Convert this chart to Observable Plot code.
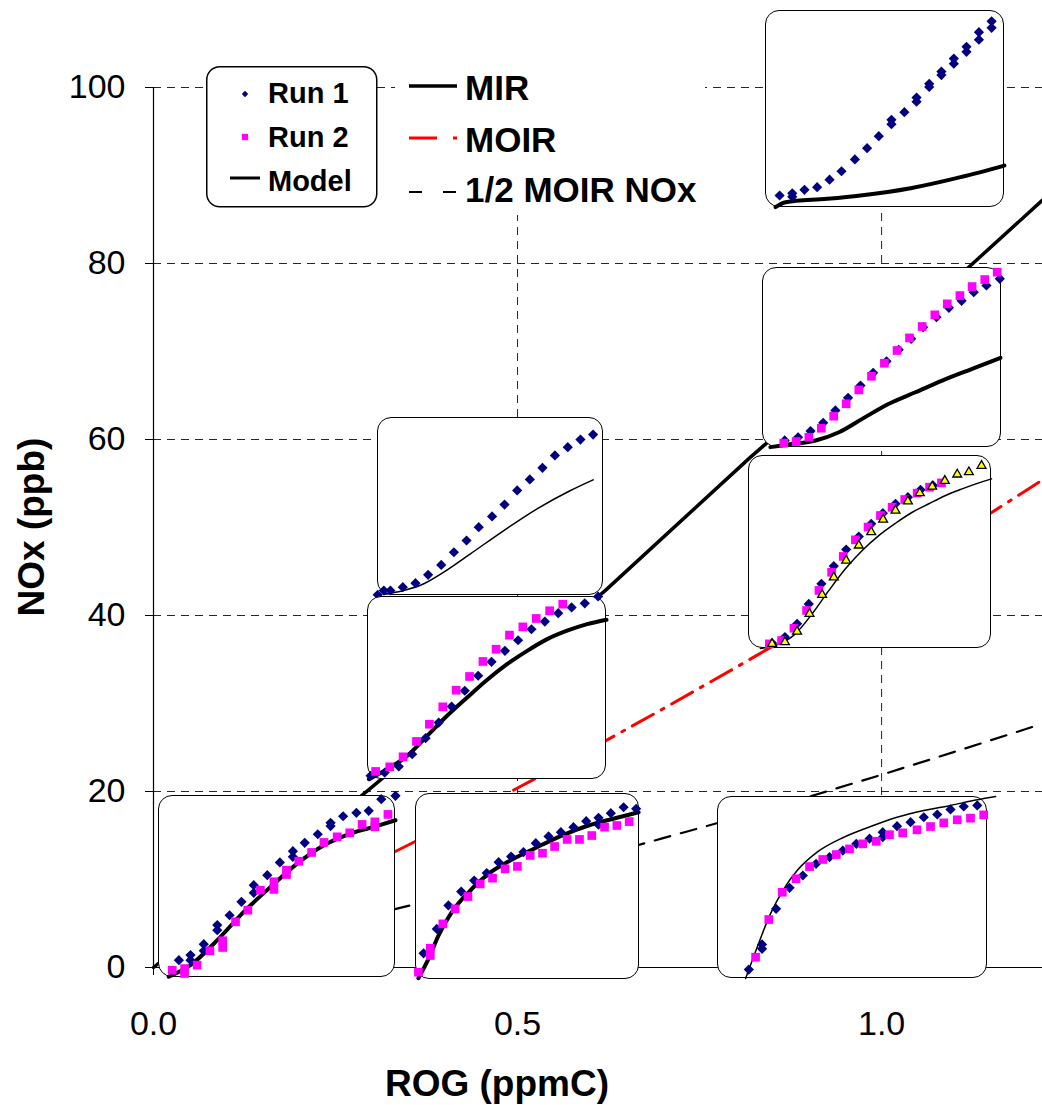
<!DOCTYPE html>
<html><head><meta charset="utf-8">
<script src="https://cdn.jsdelivr.net/npm/d3@7"></script>
<script src="https://cdn.jsdelivr.net/npm/@observablehq/plot@0.6"></script>
<style>
body{margin:0;background:#fff;}
#wrap{position:relative;width:1042px;height:1105px;overflow:hidden;font-family:'Liberation Sans',Arial,sans-serif;background:#fff;}
.inset{position:absolute;box-sizing:border-box;border:1.5px solid #000;border-radius:14px;background:#fff;overflow:visible;}
.inset svg{position:absolute;left:-1.5px;top:-1.5px;overflow:visible;max-width:none;}
</style></head><body><div id="wrap"></div>
<script>
// ---------- main chart data ----------
const yTicks = [0, 20, 40, 60, 80, 100];
const xTicks = [0, 0.5, 1.0];
const gridYValues = [20, 40, 60, 80, 100];
const gridXValues = [0.5, 1.0];
const mirRog = [0, 0.30, 0.62, 0.82, 1.12, 1.221];
const mirNox = [0, 20.5, 42.8, 58.0, 79.6, 87.2];
const moirRog = [0.33, 0.40, 0.50, 0.60, 0.70, 0.80, 0.90, 1.00, 1.10, 1.221];
const moirNox = [13.1, 16.0, 20.4, 24.8, 29.4, 34.1, 38.9, 43.9, 49.0, 55.4];
const halfMoirNox = [6.6, 8.0, 10.2, 12.4, 14.7, 17.0, 19.4, 21.9, 24.5, 27.7];
const legendSeries = ["Run 1", "Run 2", "Model"];
const legendLines = ["MIR", "MOIR", "1/2 MOIR NOx"];

// ---------- inset data (x: % of run time, y: % of inset range) ----------
const inset1Run1 = [[5.9,6.1],[11.2,5.5],[11.2,7.2],[16.3,9.0],[21.6,10.3],[26.8,14.1],[31.8,18.4],[37.4,24.4],[42.5,30.1],[47.4,36.2],[52.7,42.3],[52.7,44.5],[58.1,48.4],[63.2,53.7],[63.2,55.8],[68.5,61.2],[68.5,62.8],[73.6,67.2],[73.6,69.0],[78.8,73.0],[78.8,75.6],[84.1,79.0],[84.1,81.6],[89.3,85.2],[89.3,89.0],[94.6,91.2],[94.6,94.5]];
const inset1Model = [[4.2,0.2],[8.4,2.7],[25.8,4.4],[39.7,6.1],[60.7,9.8],[81.6,15.4],[100,21.3]];

const inset2Run1 = [[9.3,3.9],[14.9,5.7],[20.1,9.1],[25.4,13.7],[30.5,20.6],[35.8,27.6],[41.0,34.4],[46.3,41.5],[51.9,47.9],[57.0,54.3],[62.2,60.4],[67.2,66.8],[72.8,72.4],[78.0,77.6],[83.3,81.5],[88.4,86.3],[93.7,90.0],[99.3,93.7]];
const inset2Run2 = [[8.9,2.4],[14.1,3.3],[19.4,5.7],[24.6,10.7],[29.8,17.4],[35.0,24.3],[40.3,32.0],[45.6,39.6],[51.0,46.8],[56.3,53.9],[61.5,60.9],[66.8,67.2],[72.1,73.7],[77.3,79.8],[82.6,84.4],[87.7,89.4],[93.0,93.3],[98.2,97.4]];
const inset2Model = [[3.3,0.2],[11.0,1.7],[22.2,3.9],[32.0,8.5],[41.7,15.9],[52.9,24.3],[64.0,30.7],[75.2,37.2],[87.7,43.7],[99.6,49.8]];

const inset3Run1 = [[9.7,2.8],[15.0,5.9],[20.0,12.8],[24.8,23.1],[30.0,33.5],[35.1,42.7],[40.2,51.3],[45.4,58.0],[50.5,64.6],[55.3,70.1],[60.5,75.0],[65.6,78.4],[70.8,82.2],[75.9,84.5]];
const inset3Run2 = [[8.6,2.4],[13.6,4.1],[18.7,10.5],[23.9,19.7],[29.0,30.1],[34.2,39.5],[39.0,47.7],[44.0,56.3],[49.2,62.9],[54.3,68.9],[59.1,73.2],[64.3,77.2],[69.4,80.5],[74.5,83.6],[79.4,85.8]];
const inset3Run3 = [[9.7,2.4],[15.0,3.3],[20.0,8.8],[25.1,18.0],[30.3,27.8],[35.1,36.9],[40.2,45.6],[45.4,53.4],[50.5,60.3],[55.4,66.8],[60.5,71.5],[65.6,76.3],[70.5,80.5],[75.6,83.9],[80.8,86.9],[85.9,90.2],[90.7,91.4],[95.9,94.7]];
const inset3Model = [[4.9,0],[11.1,1.6],[19.3,7.6],[26.2,18.0],[33.1,30.1],[39.9,41.3],[46.8,50.8],[53.6,58.5],[60.5,64.9],[67.4,70.6],[74.2,75.0],[81.1,79.3],[87.9,82.7],[94.8,85.8],[100,87.9]];

const inset4Run1 = [[0.1,0.4],[2.8,2.8],[5.7,2.8],[11.2,4.7],[16.8,6.9],[22.4,11.6],[28.2,17.2],[33.8,24.3],[39.4,30.9],[44.8,38.4],[50.7,44.4],[56.2,51.1],[61.8,59.0],[67.4,65.2],[73.0,71.7],[78.5,78.7],[84.2,83.3],[89.8,87.6],[95.4,90.4]];
const inset4Model = [[2.8,0.6],[11.6,2.8],[20.5,6.6],[29.3,13.1],[41.1,23.4],[55.9,36.5],[70.6,48.7],[85.4,59.0],[95.4,65.0]];

const inset5Run1 = [[1.3,2.0],[7.2,3.8],[13.1,7.1],[18.7,13.8],[24.3,22.6],[29.8,31.1],[35.2,39.9],[40.7,48.5],[46.3,56.7],[51.9,64.3],[57.5,70.3],[63.0,76.1],[68.6,82.1],[74.2,86.3],[79.8,90.9],[85.4,94.0],[90.9,96.3],[96.5,100]];
const inset5Run2 = [[3.4,4.4],[9.3,6.9],[14.9,12.4],[20.5,20.8],[25.9,30.2],[31.5,39.7],[37.1,48.8],[42.7,56.3],[48.3,64.5],[53.8,71.2],[59.4,78.9],[65.0,83.4],[70.6,88.0],[76.2,92.2],[81.7,95.8]];
const inset5Model = [[0.6,0.2],[8.2,5.6],[16.6,12.9],[25.0,23.9],[33.3,34.8],[41.7,44.8],[50.1,54.5],[58.4,63.0],[66.8,70.3],[75.2,76.7],[83.5,81.3],[91.9,84.9],[100,87.3]];

const inset6Run1 = [[8.6,9.5],[13.5,12.3],[13.5,9.5],[19.1,18.3],[19.1,14.7],[24.8,28.8],[24.8,26.0],[30.0,34.2],[35.0,41.6],[40.2,50.7],[40.2,46.5],[45.9,56.2],[51.2,63.2],[56.7,69.4],[56.7,66.3],[61.7,74.0],[67.2,78.7],[72.6,85.0],[72.6,83.2],[77.9,88.6],[83.5,90.5],[88.7,91.6],[94.0,98.0],[100,99.8]];
const inset6Run2 = [[5.8,4.0],[11.0,4.9],[11.0,2.2],[16.3,6.8],[21.7,14.7],[27.1,20.2],[27.1,16.5],[32.5,30.6],[37.7,37.0],[43.0,48.0],[48.7,52.6],[48.7,48.4],[54.0,59.0],[54.0,56.6],[59.2,63.9],[64.6,68.7],[69.8,74.2],[75.4,77.3],[80.7,79.5],[85.9,84.1],[91.3,85.5],[91.3,82.8],[96.8,89.6]];
const inset6Model = [[4.3,0.4],[13.5,6.8],[24.8,20.5],[36.0,36.1],[47.3,49.8],[58.5,62.6],[69.8,72.7],[81.0,79.1],[92.3,83.3],[100,86.4]];

const inset7Run1 = [[3.6,14.1],[9.5,27.2],[14.7,39.8],[20.4,47.3],[26.2,53.2],[31.8,57.2],[37.1,63.1],[42.7,66.1],[48.2,68.5],[53.7,73.3],[59.4,76.9],[64.9,79.2],[70.5,81.9],[76.2,85.1],[81.7,86.9],[81.7,83.2],[87.2,89.4],[92.9,92.6],[98.5,91.8]];
const inset7Run2 = [[1.3,3.9],[6.6,16.8],[6.6,12.9],[12.2,29.9],[17.7,38.0],[23.4,44.6],[28.9,51.4],[34.4,54.5],[40.0,59.5],[45.5,60.8],[51.2,66.7],[56.7,67.9],[62.1,71.5],[67.7,75.3],[73.2,75.3],[78.7,77.4],[84.4,81.9],[89.9,82.8],[95.4,84.9]];
const inset7Model = [[1.3,0.7],[5.8,11.1],[10.3,23.7],[16.2,36.2],[23.7,46.9],[32.6,56.8],[41.5,63.4],[53.4,70.6],[65.3,77.4],[77.2,82.8],[89.1,86.7],[99.6,89.9]];

const inset8Run1 = [[11.6,4.9],[16.5,18.7],[16.5,16.3],[21.7,38.3],[26.7,49.8],[31.6,56.6],[36.5,63.0],[41.5,66.7],[46.4,70.3],[51.4,74.0],[56.3,76.8],[61.2,80.4],[61.2,77.6],[66.5,83.7],[71.5,85.9],[76.4,88.6],[81.4,90.1],[86.3,92.9],[91.2,94.5],[96.2,95.1]];
const inset8Run2 = [[14.1,11.7],[19.0,32.4],[24.0,47.4],[29.1,54.8],[34.1,61.5],[39.0,65.4],[44.0,68.1],[48.9,71.2],[53.8,74.0],[58.8,75.4],[63.7,79.0],[68.6,80.0],[73.9,81.7],[78.9,83.5],[83.8,85.5],[88.8,87.2],[93.7,88.1],[98.6,89.9]];
const inset8Model = [[10.4,0],[14.7,17.2],[19.6,35.5],[24.6,49.3],[29.5,59.3],[36.9,69.4],[46.8,77.6],[56.7,83.5],[66.5,88.6],[76.4,92.3],[86.3,95.1],[96.2,98.2],[103,100]];

// ---------- layout (pixel boxes of the insets) ----------
const insetLayout = [
  {left:765, top:10,  w:239, h:197, thick:true,  series:[inset1Model, inset1Run1, null, null]},
  {left:762, top:267, w:239, h:180, thick:true,  series:[inset2Model, inset2Run1, inset2Run2, null]},
  {left:748, top:455, w:243, h:193, thick:false, series:[inset3Model, inset3Run1, inset3Run2, inset3Run3]},
  {left:377, top:417, w:226, h:178, thick:false, series:[inset4Model, inset4Run1, null, null]},
  {left:367, top:596, w:239, h:183, thick:true,  series:[inset5Model, inset5Run1, inset5Run2, null]},
  {left:158, top:795, w:237, h:182, thick:true,  series:[inset6Model, inset6Run1, inset6Run2, null]},
  {left:415, top:793, w:224, h:186, thick:true,  series:[inset7Model, inset7Run1, inset7Run2, null]},
  {left:717, top:796, w:270, h:182, thick:false, series:[inset8Model, inset8Run1, inset8Run2, null]}
];

const FONT = "'Liberation Sans', Arial, Helvetica, sans-serif";
const NAVY = "#000080", MAGENTA = "#ff00ff", RED = "#ff0000", YELLOW = "#ffff00";

const mir = mirRog.map((r, i) => ({rog: r, nox: mirNox[i]}));
const moir = moirRog.map((r, i) => ({rog: r, nox: moirNox[i]}));
const halfMoir = moirRog.map((r, i) => ({rog: r, nox: halfMoirNox[i]}));

const wrap = document.getElementById("wrap");

const main = Plot.plot({
  width: 1042, height: 1105,
  marginLeft: 153, marginRight: 0, marginTop: 87, marginBottom: 138,
  x: {domain: [0, 1.221]},
  y: {domain: [0, 100]},
  style: {fontFamily: FONT, background: "white", overflow: "visible", color: "black", maxWidth: "none"},
  marks: [
    Plot.gridY(gridYValues, {stroke: "#000", strokeOpacity: 0.85, strokeWidth: 1, strokeDasharray: "8,6"}),
    Plot.gridX(gridXValues, {stroke: "#000", strokeOpacity: 0.85, strokeWidth: 1, strokeDasharray: "8,6"}),
    Plot.line(halfMoir, {x: "rog", y: "nox", stroke: "#000", strokeWidth: 2.2, strokeDasharray: "16,11"}),
    Plot.line(moir, {x: "rog", y: "nox", stroke: RED, strokeWidth: 3, strokeDasharray: "24,9,3,9"}),
    Plot.line(mir, {x: "rog", y: "nox", stroke: "#000", strokeWidth: 3.5}),
    Plot.ruleX([0], {stroke: "#000", strokeWidth: 1.2}),
    Plot.ruleY([0], {stroke: "#000", strokeWidth: 1.2}),
    Plot.axisY(yTicks, {tickSize: 8, tickPadding: 20, fontSize: 34, label: null}),
    Plot.axisX(xTicks, {tickSize: 8, tickPadding: 35, fontSize: 34, label: null, tickFormat: d => d.toFixed(1)})
  ]
});
wrap.appendChild(main);

const svg = d3.select(main);
// axis titles
svg.append("text").attr("transform", "translate(44,527) rotate(-90)")
  .attr("text-anchor", "middle").attr("font-family", FONT).attr("font-weight", "bold")
  .attr("font-size", 37).attr("fill", "#000").text("NOx (ppb)");
svg.append("text").attr("x", 497).attr("y", 1096)
  .attr("text-anchor", "middle").attr("font-family", FONT).attr("font-weight", "bold")
  .attr("font-size", 37).attr("fill", "#000").text("ROG (ppmC)");

// legend 2 (isopleth lines), white background, no border
const lg2 = svg.append("g").attr("text-anchor", "start");
lg2.append("rect").attr("x", 395).attr("y", 60).attr("width", 310).attr("height", 155).attr("fill", "#fff");
const lineStyles = [
  {stroke: "#000", dash: null, w: 3.5},
  {stroke: RED, dash: "28,16,4,100", w: 3},
  {stroke: "#000", dash: "13,21", w: 2.2}
];
const lineRowsY = [86, 138, 192];
const lineTextY = [100, 152, 202];
legendLines.forEach((name, i) => {
  lg2.append("line").attr("x1", 409).attr("x2", 457).attr("y1", lineRowsY[i]).attr("y2", lineRowsY[i])
    .attr("stroke", lineStyles[i].stroke).attr("stroke-width", lineStyles[i].w)
    .attr("stroke-dasharray", lineStyles[i].dash);
  lg2.append("text").attr("x", 465).attr("y", lineTextY[i]).attr("text-anchor", "start").attr("font-family", FONT)
    .attr("font-weight", "bold").attr("font-size", 35).attr("fill", "#000").text(name);
});

// legend 1 (runs & model), rounded box
const lg1 = svg.append("g").attr("text-anchor", "start");
lg1.append("rect").attr("x", 206.75).attr("y", 66.75).attr("width", 170).attr("height", 140)
  .attr("rx", 13).attr("fill", "#fff").attr("stroke", "#000").attr("stroke-width", 1.5);
const symY = [94, 137, 178];
const txtY = [103, 147, 191];
lg1.append("path").attr("transform", `translate(245,${symY[0]})`).attr("d", d3.symbol(d3.symbolDiamond2, 26)()).attr("fill", NAVY);
lg1.append("path").attr("transform", `translate(245,${symY[1]})`).attr("d", d3.symbol(d3.symbolSquare, 40)()).attr("fill", MAGENTA);
lg1.append("line").attr("x1", 230).attr("x2", 260).attr("y1", symY[2]).attr("y2", symY[2]).attr("stroke", "#000").attr("stroke-width", 3);
legendSeries.forEach((name, i) => {
  lg1.append("text").attr("x", 268).attr("y", txtY[i]).attr("text-anchor", "start").attr("font-family", FONT)
    .attr("font-weight", "bold").attr("font-size", 29).attr("fill", "#000").text(name);
});

// ---------- insets ----------
const px = d => d[0], py = d => d[1];
insetLayout.forEach(box => {
  const [model, run1, run2, run3] = box.series;
  const marks = [
    Plot.line(model, {x: px, y: py, stroke: "#000", strokeWidth: box.thick ? 4 : 1.5, curve: "monotone-x"}),
    Plot.dot(run1, {x: px, y: py, symbol: "diamond2", r: 4.6, fill: NAVY, stroke: "none"})
  ];
  if (run2) marks.push(Plot.dot(run2, {x: px, y: py, symbol: "square", r: 4.9, fill: MAGENTA, stroke: "none"}));
  if (run3) marks.push(Plot.dot(run3, {x: px, y: py, symbol: "triangle", r: 3.3, fill: YELLOW, stroke: "#000", strokeWidth: 1.3}));
  const chart = Plot.plot({
    width: box.w, height: box.h, margin: 0,
    x: {domain: [0, 100], axis: null},
    y: {domain: [0, 100], axis: null},
    style: {overflow: "visible", background: "none", maxWidth: "none"},
    marks
  });
  const div = document.createElement("div");
  div.className = "inset";
  Object.assign(div.style, {left: box.left + "px", top: box.top + "px", width: box.w + "px", height: box.h + "px"});
  div.appendChild(chart);
  wrap.appendChild(div);
});
</script></body></html>
